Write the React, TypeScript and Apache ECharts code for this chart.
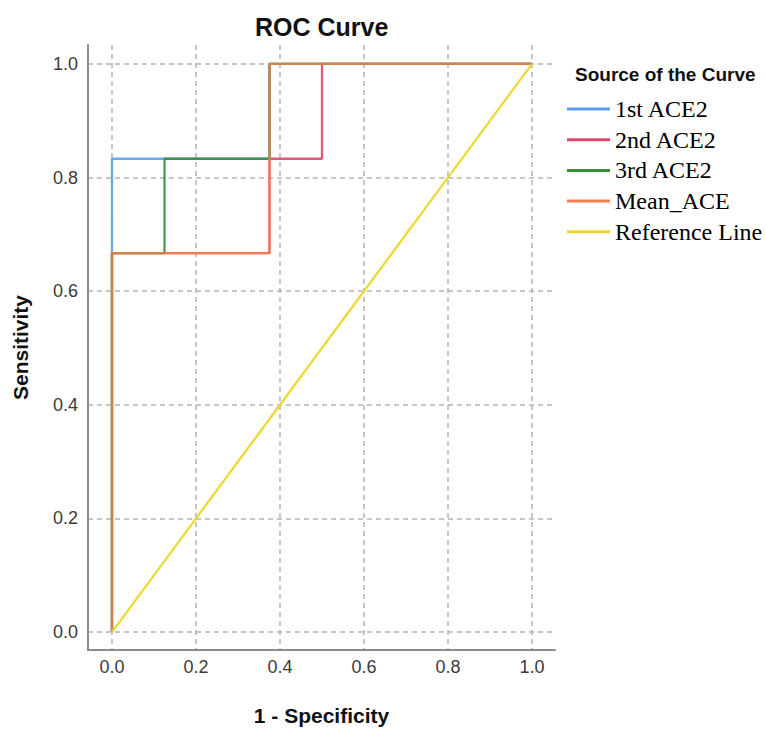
import React, { useEffect, useRef } from "react";
import * as echarts from "echarts";

// 1 - Specificity (x) and Sensitivity (y) for each ROC step curve
const names = ["1st ACE2", "2nd ACE2", "3rd ACE2", "Mean_ACE", "Reference Line"];
const fpr1 = [0, 0, 0.375, 0.375, 1];
const tpr1 = [0, 0.833, 0.833, 1, 1];
const fpr2 = [0, 0, 0.375, 0.375, 0.5, 0.5, 1];
const tpr2 = [0, 0.667, 0.667, 0.833, 0.833, 1, 1];
const fpr3 = [0, 0, 0.125, 0.125, 0.375, 0.375, 1];
const tpr3 = [0, 0.667, 0.667, 0.833, 0.833, 1, 1];
const fprMean = [0, 0, 0.375, 0.375, 1];
const tprMean = [0, 0.667, 0.667, 1, 1];
const fprRef = [0, 1];
const tprRef = [0, 1];
const colors = ["#5a9ef0", "#e0466c", "#3a8e3a", "#f5804f", "#e8d82a"];
const opacities = [0.9, 0.9, 0.9, 0.8, 0.95];
const tickStep = 0.2;

const zip = (xs: number[], ys: number[]) => xs.map((x, i) => [x, ys[i]]);

const SANS = "'Liberation Sans', Arial, sans-serif";
const SERIF = "'Liberation Serif', 'Times New Roman', serif";

const labelFmt = (v: number) => {
  const k = Math.round(v / tickStep);
  return Math.abs(v - k * tickStep) < 1e-6 ? Math.abs(v).toFixed(1) : "";
};

export default function App() {
  const ref = useRef<HTMLDivElement>(null);
  useEffect(() => {
    const chart = echarts.init(ref.current!, null, { renderer: "svg" });
    const seriesData = [
      zip(fpr1, tpr1),
      zip(fpr2, tpr2),
      zip(fpr3, tpr3),
      zip(fprMean, tprMean),
      zip(fprRef, tprRef),
    ];
    const axisCommon = {
      type: "value",
      minInterval: tickStep,
      maxInterval: tickStep,
      axisLine: { show: true, onZero: false, lineStyle: { color: "#8c8c8c", width: 2 } },
      axisTick: { show: false },
      splitLine: {
        show: true,
        showMaxLine: false,
        lineStyle: { type: [5, 4], color: "#b4b4b4", width: 1.5 },
      },
      nameLocation: "middle",
      nameTextStyle: { fontSize: 21, fontWeight: "bold", color: "#111", fontFamily: SANS },
    };
    chart.setOption({
      animation: false,
      backgroundColor: "#ffffff",
      title: [
        {
          text: "ROC Curve",
          left: 250,
          top: 9,
          textStyle: { fontSize: 25, fontWeight: "bold", color: "#111", fontFamily: SANS },
        },
        {
          text: "Source of the Curve",
          left: 570,
          top: 60,
          textStyle: { fontSize: 19, fontWeight: "bold", color: "#111", fontFamily: SANS },
        },
      ],
      legend: {
        orient: "vertical",
        left: 562,
        top: 92,
        itemWidth: 43,
        itemHeight: 3,
        itemGap: 6.7,
        icon: "rect",
        data: names,
        textStyle: { fontSize: 24, lineHeight: 24, color: "#000", fontFamily: SERIF },
      },
      grid: { left: 88, right: 211, top: 45, bottom: 77, containLabel: false },
      xAxis: {
        ...axisCommon,
        min: -0.0571,
        max: 1.0548,
        name: "1 - Specificity",
        nameGap: 55,
        axisLabel: { formatter: labelFmt, fontSize: 18, color: "#3a3a3a", fontFamily: SANS, margin: 8 },
      },
      yAxis: {
        ...axisCommon,
        min: -0.0315,
        max: 1.0332,
        name: "Sensitivity",
        nameGap: 57,
        axisLabel: { formatter: labelFmt, fontSize: 18, color: "#3a3a3a", fontFamily: SANS, margin: 10 },
      },
      series: names.map((n, i) => ({
        name: n,
        type: "line",
        data: seriesData[i],
        symbol: "none",
        showSymbol: false,
        color: colors[i],
        lineStyle: { width: 2.3, color: colors[i], opacity: opacities[i] },
        z: 2 + i,
      })),
    });
    return () => chart.dispose();
  }, []);
  return (
    <div
      ref={ref}
      style={{ position: "fixed", left: 0, top: 0, width: 766, height: 731 }}
    />
  );
}
